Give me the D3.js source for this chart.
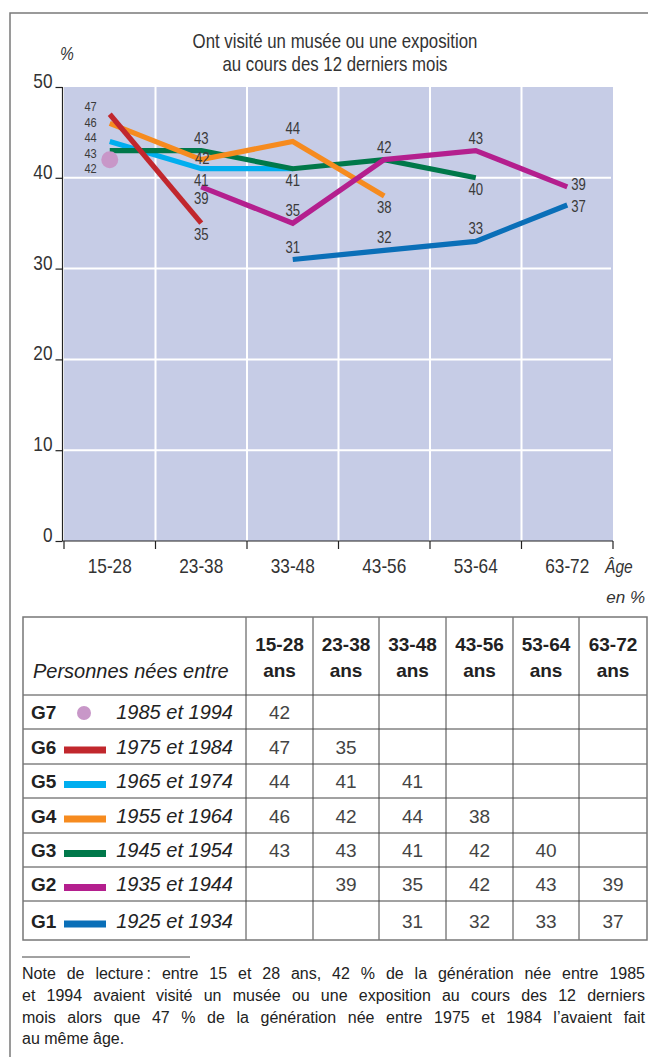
<!DOCTYPE html>
<html lang="fr">
<head>
<meta charset="utf-8">
<script src="https://cdn.jsdelivr.net/npm/d3@7"></script>
<style>
  html, body { margin: 0; padding: 0; background: #fff; }
  svg { display: block; }
  svg text { font-family: "Liberation Sans", Arial, Helvetica, sans-serif; }
</style>
</head>
<body>
<svg id="chart" width="648" height="1057"></svg>
<script>
// Age brackets (x axis) and the table header
const categories = ["15-28", "23-38", "33-48", "43-56", "53-64", "63-72"];
const yTicks = [0, 10, 20, 30, 40, 50];

// Generations and birth years
const generations = ["G7", "G6", "G5", "G4", "G3", "G2", "G1"];
const birthYears = ["1985 et 1994", "1975 et 1984", "1965 et 1974", "1955 et 1964",
                    "1945 et 1954", "1935 et 1944", "1925 et 1934"];

// Share (%) who visited a museum or exhibition in the last 12 months, by age bracket
const g7 = [42, null, null, null, null, null];
const g6 = [47, 35, null, null, null, null];
const g5 = [44, 41, 41, null, null, null];
const g4 = [46, 42, 44, 38, null, null];
const g3 = [43, 43, 41, 42, 40, null];
const g2 = [null, 39, 35, 42, 43, 39];
const g1 = [null, null, 31, 32, 33, 37];

const seriesValues = { G7: g7, G6: g6, G5: g5, G4: g4, G3: g3, G2: g2, G1: g1 };

const colors = {
  G7: "#c897c8", G6: "#c1272d", G5: "#00aeef", G4: "#f68b1f",
  G3: "#00784a", G2: "#b41f8e", G1: "#0a6fb8"
};

// Value labels on the chart: which point and where the text sits
const labelSpecs = [
  { g: "G6", i: 0, pos: "stack" }, { g: "G4", i: 0, pos: "stack" },
  { g: "G5", i: 0, pos: "stack" }, { g: "G3", i: 0, pos: "stack" },
  { g: "G7", i: 0, pos: "stack" },
  { g: "G3", i: 1, pos: "above" }, { g: "G4", i: 1, pos: "on" },
  { g: "G5", i: 1, pos: "below" }, { g: "G2", i: 1, pos: "below" },
  { g: "G6", i: 1, pos: "below" },
  { g: "G4", i: 2, pos: "above" }, { g: "G3", i: 2, pos: "below" },
  { g: "G2", i: 2, pos: "above" }, { g: "G1", i: 2, pos: "above" },
  { g: "G2", i: 3, pos: "above" }, { g: "G4", i: 3, pos: "below" },
  { g: "G1", i: 3, pos: "above" },
  { g: "G2", i: 4, pos: "above" }, { g: "G3", i: 4, pos: "below" },
  { g: "G1", i: 4, pos: "above" },
  { g: "G2", i: 5, pos: "right" }, { g: "G1", i: 5, pos: "right" }
];

const noteLines = [
  "Note de lecture\u202F: entre 15 et 28 ans, 42 % de la génération née entre 1985",
  "et 1994 avaient visité un musée ou une exposition au cours des 12 derniers",
  "mois alors que 47 % de la génération née entre 1975 et 1984 l’avaient fait",
  "au même âge."
];

// Horizontal squeeze giving the condensed face used on the chart
const NARROW = 0.82;
function narrow(parent, x, y, str, size, anchor, extra) {
  const t = parent.append("text")
    .attr("transform", `translate(${x},${y}) scale(${NARROW},1)`)
    .attr("font-size", size).attr("fill", "#333")
    .attr("text-anchor", anchor || "start")
    .text(str);
  if (extra) extra(t);
  return t;
}

const svg = d3.select("#chart");

// Outer frame (open on the right and bottom)
svg.append("path")
  .attr("d", "M10,1057 L10,13 L648,13")
  .attr("fill", "none").attr("stroke", "#7a7a7a").attr("stroke-width", 1.5);

// ---------- Chart ----------
const x = d3.scaleBand().domain(categories).range([64, 613]).padding(0);
const y = d3.scaleLinear().domain([0, 50]).range([541, 87]);
const cx = c => x(c) + x.bandwidth() / 2;

const plot = svg.append("g");

plot.append("rect")
  .attr("x", x.range()[0]).attr("y", y(50))
  .attr("width", x.range()[1] - x.range()[0]).attr("height", y(0) - y(50))
  .attr("fill", "#c6cce6");

// White grid
plot.selectAll("line.vgrid").data(categories.slice(1)).join("line")
  .attr("x1", d => x(d)).attr("x2", d => x(d))
  .attr("y1", y(50)).attr("y2", y(0))
  .attr("stroke", "#fff").attr("stroke-width", 2);
plot.selectAll("line.hgrid").data(yTicks.filter(t => t > 0 && t < 50)).join("line")
  .attr("x1", x.range()[0]).attr("x2", x.range()[1] - 2)
  .attr("y1", d => y(d)).attr("y2", d => y(d))
  .attr("stroke", "#fff").attr("stroke-width", 2);

// Y axis
const yAxis = svg.append("g")
  .attr("transform", "translate(62.5,0)")
  .call(d3.axisLeft(y).tickValues(yTicks).tickSize(7).tickPadding(3));
yAxis.select(".domain").attr("stroke", "#222").attr("stroke-width", 1.2)
  .attr("d", `M0,${y(50)}V${y(0)}`);
yAxis.selectAll(".tick line").attr("stroke", "#222").attr("stroke-width", 1.2);
yAxis.selectAll(".tick text")
  .attr("font-family", null)
  .attr("font-size", 21).attr("fill", "#333")
  .attr("x", 0).attr("dy", "0.02em")
  .attr("transform", `translate(-10,0) scale(${NARROW},1)`);

// X axis: labels centred in each bracket, ticks on bracket edges
const xAxis = svg.append("g")
  .attr("transform", `translate(0,${y(0)})`)
  .call(d3.axisBottom(x).tickSize(0));
xAxis.select(".domain").attr("stroke", "#222").attr("stroke-width", 1.2)
  .attr("d", `M62.5,0H${x.range()[1]}`);
xAxis.selectAll(".tick text")
  .attr("font-family", null)
  .attr("font-size", 21).attr("fill", "#333")
  .attr("y", 0).attr("dy", 0)
  .attr("transform", `translate(0,32) scale(${NARROW},1)`);
xAxis.selectAll("line.edge")
  .data(categories.map(c => x(c)).concat([x.range()[1]]))
  .join("line").attr("class", "edge")
  .attr("x1", d => d).attr("x2", d => d).attr("y1", 0).attr("y2", 8)
  .attr("stroke", "#222").attr("stroke-width", 1.2);

narrow(svg, 605, y(0) + 32, "Âge", 19, "start", t => t.attr("font-style", "italic"));
svg.append("text")
  .attr("x", 645).attr("y", 603).attr("text-anchor", "end")
  .attr("font-family", "'Liberation Serif', 'DejaVu Serif', serif")
  .attr("font-size", 17).attr("font-style", "italic").attr("fill", "#333")
  .text("en %");

narrow(svg, 60, 60, "%", 19, "start", t => t.attr("font-style", "italic"));

// Title
narrow(svg, 335, 48, "Ont visité un musée ou une exposition", 20.5, "middle");
narrow(svg, 335, 71, "au cours des 12 derniers mois", 20.5, "middle");

// Series lines, drawn oldest generation first
const line = d3.line()
  .defined(d => d.v != null)
  .x(d => cx(d.c)).y(d => y(d.v));
const drawOrder = ["G1", "G5", "G3", "G4", "G2", "G6"];
plot.selectAll("path.series").data(drawOrder).join("path")
  .attr("class", "series")
  .attr("d", g => line(seriesValues[g].map((v, i) => ({ c: categories[i], v }))))
  .attr("fill", "none")
  .attr("stroke", g => colors[g])
  .attr("stroke-width", 5.2)
  .attr("stroke-linejoin", "miter");

// G7 has a single point
plot.selectAll("circle.g7").data(g7.map((v, i) => ({ c: categories[i], v })).filter(d => d.v != null))
  .join("circle")
  .attr("cx", d => cx(d.c)).attr("cy", d => y(d.v)).attr("r", 8.5)
  .attr("fill", colors.G7);

// Value labels
const labels = plot.append("g");
const LABEL_SIZE = 16;

// Values at the first bracket are listed as one column, highest first
const stacked = labelSpecs.filter(s => s.pos === "stack")
  .map(s => seriesValues[s.g][s.i]).sort((a, b) => b - a);
const STACK_SIZE = 13.5, STACK_STEP = 15.5;
const stackX = cx(categories[0]) - 13;
const stackTop = y(stacked[0]) - 3;
stacked.forEach((v, k) => {
  narrow(labels, stackX, stackTop + k * STACK_STEP, v, STACK_SIZE, "end",
    t => t.attr("fill", "#3a3a3a"));
});

labelSpecs.filter(s => s.pos !== "stack").forEach(s => {
  const v = seriesValues[s.g][s.i];
  const px = cx(categories[s.i]);
  const py = y(v);
  let lx = px, ly = py, anchor = "middle";
  if (s.pos === "above") { ly = py - 7; }
  else if (s.pos === "below") { ly = py + 17; }
  else if (s.pos === "on") { lx = px + 1; ly = py + 4; }
  else if (s.pos === "right") { lx = px + 4; ly = py + (v > 38 ? 3 : 7); anchor = "start"; }
  narrow(labels, lx, ly, v, LABEL_SIZE, anchor, t => t.attr("fill", "#3a3a3a"));
});

// ---------- Table ----------
const colEdges = [23, 246, 313, 379, 446, 513, 579, 647];
const rowEdges = [617, 695, 729, 764, 798, 833, 867, 901, 940];
const table = svg.append("g");

// Inner grid
colEdges.slice(1, -1).forEach(cxv => {
  table.append("line").attr("x1", cxv).attr("x2", cxv)
    .attr("y1", rowEdges[0]).attr("y2", rowEdges[rowEdges.length - 1])
    .attr("stroke", "#444").attr("stroke-width", 1);
});
rowEdges.slice(1, -1).forEach(ry => {
  table.append("line").attr("x1", colEdges[0]).attr("x2", colEdges[colEdges.length - 1])
    .attr("y1", ry).attr("y2", ry)
    .attr("stroke", "#444").attr("stroke-width", 1);
});
table.append("rect")
  .attr("x", colEdges[0]).attr("y", rowEdges[0])
  .attr("width", colEdges[colEdges.length - 1] - colEdges[0])
  .attr("height", rowEdges[rowEdges.length - 1] - rowEdges[0])
  .attr("fill", "none").attr("stroke", "#777").attr("stroke-width", 1.5);

// Header
table.append("text")
  .attr("x", 33).attr("y", 678)
  .attr("font-size", 20).attr("font-style", "italic").attr("fill", "#222")
  .text("Personnes nées entre");
categories.forEach((c, j) => {
  const mid = (colEdges[j + 1] + colEdges[j + 2]) / 2;
  const h = table.append("text").attr("text-anchor", "middle")
    .attr("font-size", 19).attr("font-weight", "bold").attr("fill", "#222");
  h.append("tspan").attr("x", mid).attr("y", 651).text(c);
  h.append("tspan").attr("x", mid).attr("y", 677).text("ans");
});

// Generation rows
generations.forEach((g, r) => {
  const top = rowEdges[r + 1], bottom = rowEdges[r + 2];
  const base = (top + bottom) / 2 + 7;
  table.append("text").attr("x", 31).attr("y", base)
    .attr("font-size", 19).attr("font-weight", "bold").attr("fill", "#222").text(g);
  if (g === "G7") {
    table.append("circle").attr("cx", 84).attr("cy", base - 6).attr("r", 7)
      .attr("fill", colors[g]);
  } else {
    table.append("rect").attr("x", 64).attr("y", base - 7).attr("width", 42).attr("height", 7)
      .attr("fill", colors[g]);
  }
  table.append("text").attr("x", 233).attr("y", base).attr("text-anchor", "end")
    .attr("font-size", 20).attr("font-style", "italic").attr("fill", "#222")
    .text(birthYears[r]);
  seriesValues[g].forEach((v, j) => {
    if (v == null) return;
    const mid = (colEdges[j + 1] + colEdges[j + 2]) / 2;
    table.append("text").attr("x", mid).attr("y", base).attr("text-anchor", "middle")
      .attr("font-size", 19).attr("fill", "#444").text(v);
  });
});

// ---------- Reading note ----------
svg.append("line").attr("x1", 22).attr("x2", 190).attr("y1", 957).attr("y2", 957)
  .attr("stroke", "#444").attr("stroke-width", 1);

const note = svg.append("g").attr("font-size", 16).attr("fill", "#222");
const noteLeft = 22, noteRight = 645, noteTop = 979, noteLead = 21.8;
noteLines.forEach((ln, k) => {
  const words = ln.split(" ");
  const yy = noteTop + k * noteLead;
  const nodes = words.map(w => note.append("text").attr("y", yy).text(w));
  const widths = nodes.map(n => n.node().getComputedTextLength());
  const total = d3.sum(widths);
  const justify = k < noteLines.length - 1;
  const gap = justify ? (noteRight - noteLeft - total) / (words.length - 1) : 4.4;
  let xx = noteLeft;
  nodes.forEach((n, i) => { n.attr("x", xx); xx += widths[i] + gap; });
});
</script>
</body>
</html>
